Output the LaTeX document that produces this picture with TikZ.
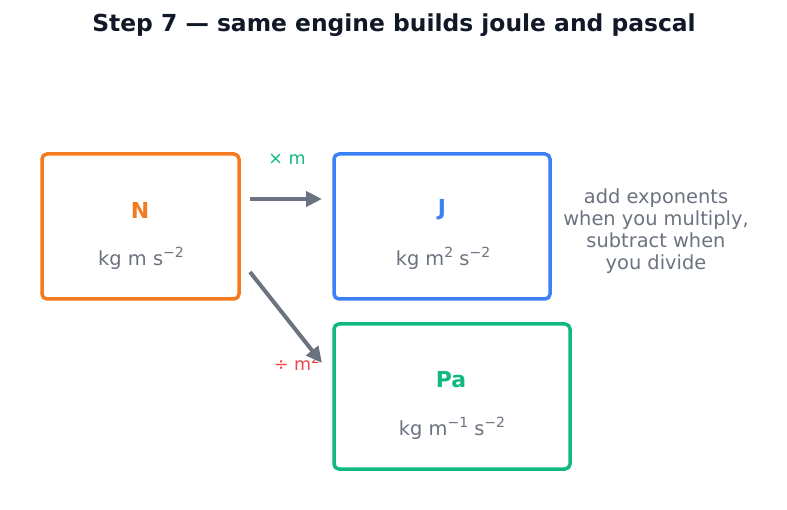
\documentclass[tikz,border=0pt]{standalone}
\usepackage{fontspec}
\setmainfont{DejaVu Sans}
\usetikzlibrary{arrows.meta}

\definecolor{titleink}{HTML}{111827}
\definecolor{unitgray}{HTML}{6B7280}
\definecolor{newtonc}{HTML}{F47A1F}
\definecolor{joulec}{HTML}{3B82F6}
\definecolor{pascalc}{HTML}{10B981}
\definecolor{dividec}{HTML}{EF4444}

% superscript at a fixed size
\newcommand{\upexp}[1]{\raisebox{0.42em}{\fontsize{14}{14}\selectfont #1}}

\tikzset{
	unitbox/.style={draw, line width=3.5pt, rounded corners=5pt, fill=white},
	symbol/.style={font=\fontsize{22}{26}\selectfont\bfseries},
	dims/.style={text=unitgray, font=\fontsize{19.4}{22}\selectfont},
	oplabel/.style={font=\fontsize{17.5}{20}\selectfont},
	engine/.style={draw=unitgray, line width=4pt, -{Triangle[length=16pt,width=15pt]}}
}

\begin{document}
\begin{tikzpicture}[x=1pt, y=-1pt]
	\useasboundingbox (0,0) rectangle (787,510);
	\node[text=titleink, font=\fontsize{23.4}{28}\selectfont\bfseries] (title) at (394,25) {Step 7 — same engine builds joule and pascal};

	% the three boxes
	\node[unitbox, draw=newtonc, minimum width=197pt, minimum height=145pt] (newton) at (140.5,226.5) {};
	\node[unitbox, draw=joulec, minimum width=216pt, minimum height=145pt] (joule) at (442,226.5) {};
	\node[unitbox, draw=pascalc, minimum width=236pt, minimum height=145pt] (pascal) at (452,396.5) {};

	\node[symbol, text=newtonc] (nsym) at (140,210) {N};
	\node[dims] (ndim) at (141,258) {kg m s\upexp{−2}};
	\node[symbol, text=joulec] (jsym) at (442,210) {J};
	\node[dims] (jdim) at (443,258) {kg m\upexp{2} s\upexp{−2}};
	\node[symbol, text=pascalc] (psym) at (451,380) {Pa};
	\node[dims] (pdim) at (452,428) {kg m\upexp{−1} s\upexp{−2}};

	% arrows
	\coordinate (mulfrom) at (250,199);
	\coordinate (multo) at (322,199);
	\coordinate (divfrom) at (250,272);
	\coordinate (divto) at (322,363);
	\draw[engine] (mulfrom) -- (multo);
	\node[oplabel, text=pascalc] (mullab) at (287,159) {× m};
	\node[oplabel, text=dividec] (divlab) at (297,362) {÷ m\upexp{2}};
	\draw[engine] (divfrom) -- (divto);

	\node[dims, align=center] (rule) at (656,231) {add exponents\\when you multiply,\\subtract when\\you divide};
\end{tikzpicture}
\end{document}
